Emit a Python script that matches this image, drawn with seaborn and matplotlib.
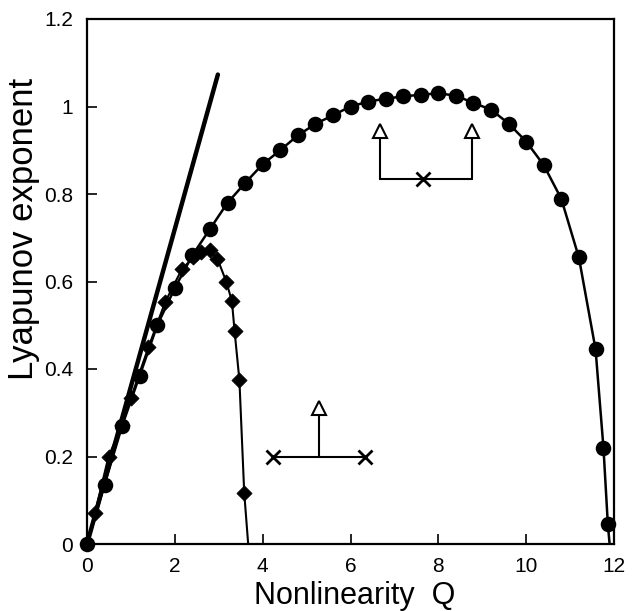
import matplotlib
matplotlib.use("Agg")
import matplotlib.pyplot as plt
import seaborn as sns
import numpy as np
import pandas as pd

# ---- data ----
circle_q = [0, 0.4, 0.8, 1.2, 1.6, 2.0, 2.4, 2.8, 3.2, 3.6, 4.0, 4.4, 4.8, 5.2, 5.6, 6.0,
            6.4, 6.8, 7.2, 7.6, 8.0, 8.4, 8.8, 9.2, 9.6, 10.0, 10.4, 10.8, 11.2, 11.58, 11.76, 11.86]
circle_l = [0, 0.136, 0.27, 0.385, 0.50, 0.585, 0.66, 0.72, 0.78, 0.825, 0.868, 0.90, 0.934, 0.96, 0.98, 1.0,
            1.011, 1.018, 1.023, 1.027, 1.03, 1.025, 1.008, 0.993, 0.961, 0.92, 0.866, 0.789, 0.655, 0.445, 0.22, 0.045]
circle_line_end_q = [11.86, 11.9]
circle_line_end_l = [0.045, 0.0]

diamond_q = [0.18, 0.49, 0.8, 1.0, 1.4, 1.78, 2.16, 2.42, 2.6, 2.79, 2.97, 3.17, 3.3, 3.36, 3.47, 3.58]
diamond_l = [0.07, 0.20, 0.272, 0.334, 0.45, 0.553, 0.628, 0.655, 0.668, 0.672, 0.652, 0.60, 0.555, 0.487, 0.375, 0.117]
diamond_line_start = (0.0, 0.0)
diamond_line_end = (3.67, 0.0)

linear_q = [0.0, 2.98]
linear_l = [0.0, 1.073]

# annotation glyphs (inset diagrams)
top_bar_q = [6.68, 8.77]
top_bar_l = [0.835, 0.835]
top_stem_q = [6.68, 8.77]
top_stem_top = 0.945
top_cross_q = 7.64
bot_bar_q = [4.24, 6.32]
bot_bar_l = [0.20, 0.20]
bot_stem_q = 5.28
bot_stem_top = 0.31

xticks = [0, 2, 4, 6, 8, 10, 12]
yticks = [0, 0.2, 0.4, 0.6, 0.8, 1.0, 1.2]
ytick_labels = ["0", "0.2", "0.4", "0.6", "0.8", "1", "1.2"]

# ---- plot ----
sns.set_theme(style="white")
plt.rcParams['font.family'] = ['Liberation Sans', 'DejaVu Sans']
plt.rcParams['text.color'] = 'black'
plt.rcParams['axes.labelcolor'] = 'black'
plt.rcParams['xtick.color'] = 'black'
plt.rcParams['ytick.color'] = 'black'

fig = plt.figure(figsize=(6.32, 6.11), dpi=100)
ax = fig.add_axes([87/632, 1 - 544/611, (614-87)/632, (544-19)/611])

# linear line
sns.lineplot(x=linear_q, y=linear_l, ax=ax, color="black", linewidth=3.2, sort=False, estimator=None)

# diamond curve
dq = [diamond_line_start[0]] + diamond_q + [diamond_line_end[0]]
dl = [diamond_line_start[1]] + diamond_l + [diamond_line_end[1]]
sns.lineplot(x=dq, y=dl, ax=ax, color="black", linewidth=1.5, sort=False, estimator=None)
sns.scatterplot(x=diamond_q, y=diamond_l, ax=ax, marker="D", s=60, color="black",
                edgecolor="black", linewidth=0.5, zorder=4)

# circle curve
cq = circle_q + circle_line_end_q[1:]
cl = circle_l + circle_line_end_l[1:]
sns.lineplot(x=cq, y=cl, ax=ax, color="black", linewidth=1.8, sort=False, estimator=None)
sns.scatterplot(x=circle_q, y=circle_l, ax=ax, marker="o", s=125, color="black",
                edgecolor="black", linewidth=0, zorder=5, clip_on=False)

# top inset
ax.plot(top_bar_q, top_bar_l, color="black", lw=1.5)
for q in top_stem_q:
    ax.plot([q, q], [top_bar_l[0], top_stem_top - 0.012], color="black", lw=1.5)
    ax.plot([q], [top_stem_top], marker="^", ms=10, mfc="white", mec="black", mew=1.5)
ax.plot([top_cross_q], [top_bar_l[0]], marker="x", ms=10, mec="black", mew=2)

# bottom inset
ax.plot(bot_bar_q, bot_bar_l, color="black", lw=1.5)
ax.plot([bot_stem_q, bot_stem_q], [bot_bar_l[0], bot_stem_top - 0.012], color="black", lw=1.5)
ax.plot([bot_stem_q], [bot_stem_top], marker="^", ms=10, mfc="white", mec="black", mew=1.5)
for q in bot_bar_q:
    ax.plot([q], [bot_bar_l[0]], marker="x", ms=10, mec="black", mew=2)

ax.set_xlim(0, 12)
ax.set_ylim(0, 1.2)
ax.set_xticks(xticks)
ax.set_xticklabels([str(t) for t in xticks])
ax.set_yticks(yticks)
ax.set_yticklabels(ytick_labels)
ax.tick_params(direction="in", length=7, width=1.2, labelsize=15, colors="black",
               bottom=True, left=True, top=False, right=False)
ax.tick_params(axis="x", pad=9)
ax.tick_params(axis="y", pad=10)
for s in ax.spines.values():
    s.set_visible(True)
    s.set_color("black")
    s.set_linewidth(1.6)

ax.set_xlabel("Nonlinearity  Q", fontsize=22, color="black")
ax.set_ylabel("Lyapunov exponent", fontsize=25, color="black")
ax.xaxis.set_label_coords(0.507, -0.071)
ax.yaxis.set_label_coords(-0.09, 0.60)

fig.savefig("out.png", dpi=100)
